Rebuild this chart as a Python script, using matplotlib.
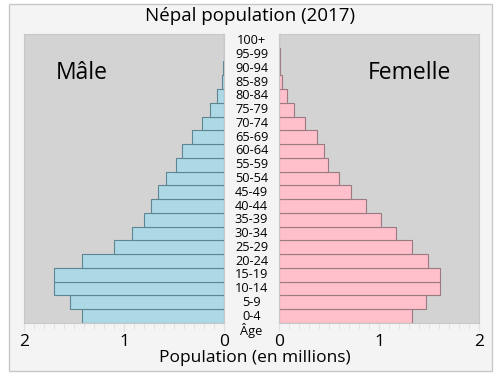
import matplotlib.pyplot as plt
from matplotlib.patches import Rectangle
from matplotlib.ticker import MultipleLocator
import matplotlib.transforms as mtransforms

plt.rcParams['font.family'] = ['Open Sans', 'DejaVu Sans']

# age groups, bottom to top
ages = ['0-4', '5-9', '10-14', '15-19', '20-24', '25-29', '30-34', '35-39',
        '40-44', '45-49', '50-54', '55-59', '60-64', '65-69', '70-74',
        '75-79', '80-84', '85-89', '90-94', '95-99', '100+']

# population in millions
male = [1.417, 1.537, 1.697, 1.697, 1.417, 1.097, 0.917, 0.797, 0.727, 0.657,
        0.577, 0.477, 0.417, 0.317, 0.217, 0.137, 0.067, 0.017, 0.010, 0.002, 0.0]
female = [1.33, 1.47, 1.603, 1.61, 1.49, 1.33, 1.17, 1.02, 0.87, 0.72,
          0.60, 0.483, 0.45, 0.38, 0.26, 0.15, 0.08, 0.03, 0.01, 0.004, 0.0]

fig = plt.figure(figsize=(5, 3.75), dpi=100, facecolor='white')
# light frame around the whole chart
fig.patches.append(Rectangle((9 / 500, 4 / 375), 483 / 500, 367 / 375,
                             transform=fig.transFigure, facecolor='#f4f4f4',
                             edgecolor='#c8c8c8', linewidth=1, zorder=-1))

ax_l = fig.add_axes([0.048, 0.1387, 0.4, 0.7707])
ax_r = fig.add_axes([0.5586, 0.1387, 0.4, 0.7707])

y = range(len(ages))
ax_l.barh(y, male, height=1, color='#add8e6', edgecolor='#5e8591', linewidth=0.8)
ax_r.barh(y, female, height=1, color='#ffc0cb', edgecolor='#9a7a80', linewidth=0.8)

for ax in (ax_l, ax_r):
    ax.set_facecolor('#d3d3d3')
    ax.set_ylim(-0.5, len(ages) - 0.5)
    ax.set_yticks([])
    ax.xaxis.set_major_locator(MultipleLocator(1))
    ax.xaxis.set_minor_locator(MultipleLocator(0.1))
    ax.tick_params(axis='x', which='major', length=6, color='#e0e0e0',
                   labelsize=12.5, pad=2)
    ax.tick_params(axis='x', which='minor', length=4, color='#e0e0e0')
    for s in ax.spines.values():
        s.set_color('#c8c8c8')
        s.set_linewidth(0.8)
    ax.set_xticks([0, 1, 2])
    ax.set_xticklabels(['0', '1', '2'])
ax_l.set_xlim(2, 0)
ax_r.set_xlim(0, 2)

# age labels in the gap between the two halves
trans = mtransforms.blended_transform_factory(ax_l.transAxes, ax_l.transData)
for i, a in enumerate(ages):
    ax_l.text(1.1375, i, a, transform=trans, ha='center', va='center', fontsize=9.2)
ax_l.text(1.1375, -1.05, 'Âge', transform=trans, ha='center', va='center',
          fontsize=9.2, clip_on=False)

ax_l.text(0.29, 0.865, 'Mâle', transform=ax_l.transAxes, ha='center',
          va='center', fontsize=16.5)
ax_r.text(0.65, 0.865, 'Femelle', transform=ax_r.transAxes, ha='center',
          va='center', fontsize=16.5)

fig.text(0.5, 1 - 16 / 375, 'Népal population (2017)', ha='center',
         va='center', fontsize=13.5)
fig.text(0.509, 1 - 358 / 375, 'Population (en millions)', ha='center',
         va='center', fontsize=12.5)

fig.savefig('out.png', dpi=100, facecolor='white')
